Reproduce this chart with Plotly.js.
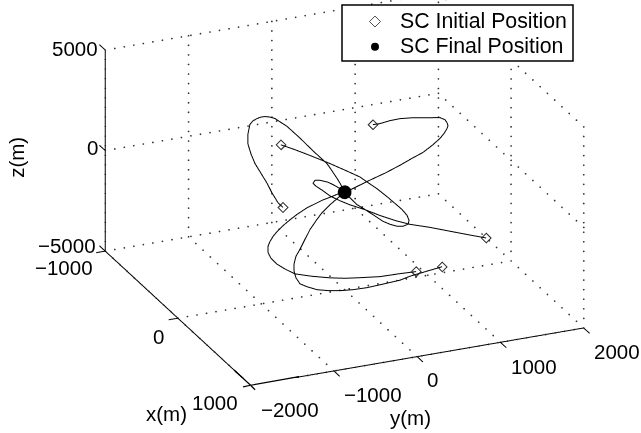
<!DOCTYPE html>
<html><head><meta charset="utf-8">
<script src="https://cdn.plot.ly/plotly-3.0.1.min.js"></script>
<style>html,body{margin:0;padding:0;background:#fff}#c{width:641px;height:433px}</style>
</head><body><div id="c"></div>
<script>
const xTicks=[-1000,0,1000], yTicks=[-2000,-1000,0,1000,2000], zTicks=[-5000,0,5000];
const finalPos=[0,0,-150];
const a1X=[-300,-300,-300,-300,-300,-300,-200,-200,-200,-200,-200,-200,-100,-100,-100,-100,-100,-100,-100,0,0,0,0,0];
const a1Y=[-478,-538,-610,-670,-742,-814,-949,-985,-985,-973,-961,-925,-964,-916,-868,-808,-748,-604,-448,-378,-210,-114,-54,0];
const a1Z=[-1575,-1290,-752,-222,315,853,1761,2275,2763,2998,3233,3379,3855,3895,3887,3820,3705,3215,2522,2165,1414,762,331,-150];
const a2X=[-200,-200,-200,-200,-100,-100,-100,-100,0,0,100,100,100,100,100,100,100,100,0,0,0,0,0];
const a2Y=[-589,-421,-240,-36,93,273,357,477,511,607,604,664,688,676,616,544,460,376,354,246,150,66,0];
const a2Z=[1950,1590,1172,688,536,69,-234,-658,-745,-1154,-1117,-1452,-1713,-1899,-1956,-1906,-1749,-1545,-1563,-1195,-884,-485,-150];
const a3X=[300,300,300,300,200,200,100,100,100,0,0,0,0,0,0,0,0,0,0,0];
const a3Y=[1439,1247,1006,766,613,433,339,159,-21,-54,-174,-270,-342,-378,-354,-294,-198,-126,-66,0];
const a3Z=[-2459,-2179,-1817,-1454,-1528,-1208,-1226,-808,-439,-547,-220,139,384,556,685,643,479,283,95,-150];
const a4X=[-300,-300,-300,-300,-200,-200,-200,-200,-100,-100,-100,-100,-100,-100,0,0,0,0,0,0,0,0,0];
const a4Y=[603,687,808,928,985,1117,1237,1321,1294,1318,1330,1318,1282,1234,1051,943,811,667,486,282,162,66,0];
const a4Z=[1771,1761,1824,1837,2173,2082,1998,1940,2189,2025,1871,1733,1514,1304,1416,1150,948,707,442,194,33,-95,-150];
const a5X=[300,300,300,300,300,300,200,200,200,200,200,200,100,100,100,100,100,100,0,0,0,0,0,0,0];
const a5Y=[598,406,165,-75,-255,-435,-564,-769,-889,-985,-1057,-1093,-1006,-982,-946,-898,-826,-742,-559,-450,-354,-258,-162,-78,0];
const a5Z=[-3533,-3497,-3475,-3357,-3257,-3107,-3271,-3006,-2679,-2368,-2026,-1708,-1803,-1576,-1357,-1147,-904,-670,-832,-614,-486,-358,-277,-190,-150];
const a6X=[400,400,400,400,400,400,400,400,300,300,300,300,300,200,200,200,200,100,100,100,0,0,0,0];
const a6Y=[823,619,439,319,138,-78,-246,-402,-459,-591,-711,-796,-844,-781,-781,-757,-709,-562,-501,-429,-270,-174,-78,0];
const a6Z=[-3118,-3220,-3314,-3426,-3471,-3516,-3497,-3436,-3724,-3585,-3354,-3149,-2823,-2852,-2510,-2137,-1829,-1771,-1325,-936,-983,-659,-385,-150];
const curves=[[a1X,a1Y,a1Z],[a2X,a2Y,a2Z],[a3X,a3Y,a3Z],[a4X,a4Y,a4Z],[a5X,a5Y,a5Z],[a6X,a6Y,a6Z]];
const [xLo,xHi]=[xTicks[0],xTicks[2]], [yLo,yHi]=[yTicks[0],yTicks[4]], [zLo,zHi]=[zTicks[0],zTicks[2]];
const FONT='"Liberation Sans", Arial, Helvetica, sans-serif';
function segs(list){const X=[],Y=[],Z=[];list.forEach(s=>{X.push(s[0],s[3],null);Y.push(s[1],s[4],null);Z.push(s[2],s[5],null);});return {x:X,y:Y,z:Z};}
const gridSegs=[];
yTicks.forEach(y=>{gridSegs.push([xLo,y,zLo,xHi,y,zLo,20]);gridSegs.push([xLo,y,zLo,xLo,y,zHi,21]);});
xTicks.forEach(x=>{gridSegs.push([x,yLo,zLo,x,yHi,zLo,35]);gridSegs.push([x,yHi,zLo,x,yHi,zHi,21]);});
zTicks.forEach(z=>{gridSegs.push([xLo,yLo,z,xLo,yHi,z,35]);gridSegs.push([xLo,yHi,z,xHi,yHi,z,20]);});
const gx=[],gy=[],gz=[];
gridSegs.forEach(s=>{const n=s[6];for(let i=0;i<=n;i++){const t=i/n;gx.push(s[0]+(s[3]-s[0])*t);gy.push(s[1]+(s[4]-s[1])*t);gz.push(s[2]+(s[5]-s[2])*t);}});
const axisSegs=[[xLo,yLo,zLo,xHi,yLo,zLo],[xHi,yLo,zLo,xHi,yHi,zLo],[xLo,yLo,zLo,xLo,yLo,zHi]];
xTicks.forEach(x=>axisSegs.push([x,yLo,zLo,x,yLo-110,zLo]));
yTicks.forEach(y=>axisSegs.push([xHi,y,zLo,xHi+80,y,zLo]));
zTicks.forEach(z=>axisSegs.push([xLo,yLo,z,xLo-80,yLo,z]));
const traces=[
 {type:'scatter3d',mode:'markers',showlegend:false,hoverinfo:'skip',x:gx,y:gy,z:gz,marker:{symbol:'circle',size:1,color:'#333',line:{width:0}}},
 Object.assign({type:'scatter3d',mode:'lines',showlegend:false,hoverinfo:'skip',line:{color:'#000',width:2}},segs(axisSegs))
];
curves.forEach(c=>traces.push({type:'scatter3d',mode:'lines',showlegend:false,x:c[0],y:c[1],z:c[2],line:{color:'#000',width:2}}));
const legendText=s=>'<span style="font-size:21.3px">'+s+'</span>';
traces.push({type:'scatter3d',mode:'markers',name:legendText('SC Initial Position'),
 x:curves.map(c=>c[0][0]).concat([null]),y:curves.map(c=>c[1][0]).concat([null]),z:curves.map(c=>c[2][0]).concat([null]),
 marker:{symbol:'diamond-open',size:[7,7,7,7,7,7,17],color:'#000',line:{color:'#000',width:1}}});
traces.push({type:'scatter3d',mode:'markers',name:legendText('SC Final Position'),x:[finalPos[0]],y:[finalPos[1]],z:[finalPos[2]],marker:{symbol:'circle',size:8,color:'#000'}});
const txt=(text,x,y,z,dx,dy,extra)=>Object.assign({text,x,y,z,showarrow:false,xanchor:'center',yanchor:'middle',xshift:dx,yshift:-dy,font:{family:FONT,size:20.5,color:'#000'}},extra||{});
const lab=v=>String(v).replace('-','\u2212');
const ann=[];
const zOff={'-5000':[-38,-6],'0':[-13,-3],'5000':[-30,-2]};
zTicks.forEach(z=>ann.push(txt(lab(z),xLo,yLo,z,zOff[z][0],zOff[z][1])));
const xOff={'-1000':[-41,16],'0':[-19,18],'1000':[-36,17]};
xTicks.forEach(x=>ann.push(txt(lab(x),x,yLo,zLo,xOff[x][0],xOff[x][1])));
const yOff={'-2000':[39,24],'-1000':[39,24],'0':[15,23],'1000':[34,24],'2000':[33,24]};
yTicks.forEach(y=>ann.push(txt(lab(y),xHi,y,zLo,yOff[y][0],yOff[y][1])));
ann.push(txt('x(m)',0,yLo,zLo,-11,95));
ann.push(txt('y(m)',xHi,0,zLo,-7,61));
ann.push(txt('z(m)',xLo,yLo,0,-89,7,{textangle:-90}));
// The corner of the box nearest the viewer falls outside the WebGL depth range, so it is drawn from that corner's data position.
[[-18,-16.6],[50,-9],[-9,2],[6,6]].forEach(o=>ann.push({x:xHi,y:yLo,z:zLo,text:' ',showarrow:true,arrowhead:0,arrowwidth:1.2,arrowcolor:'#000',standoff:0,startstandoff:0,ax:o[0],ay:o[1],font:{size:1}}));
const noAxis=(range)=>({range,autorange:false,showgrid:false,zeroline:false,showline:false,showticklabels:false,ticks:'',showbackground:false,showspikes:false,title:{text:''}});
const layout={width:641,height:433,margin:{l:0,r:0,t:0,b:0},paper_bgcolor:'#fff',hovermode:false,
 shapes:[{type:'rect',xref:'paper',yref:'paper',x0:342/641,x1:573/641,y0:1-61/433,y1:1-5/433,fillcolor:'#fff',line:{color:'#000',width:1.5},layer:'above'}],
 legend:{x:350/641,xanchor:'left',y:1-4/433,yanchor:'top',bgcolor:'rgba(0,0,0,0)',borderwidth:0,itemwidth:40,font:{family:FONT,size:17,color:'#000'}},
 scene:{domain:{x:[48/641,1],y:[55/433,1]},
  xaxis:noAxis([xLo*1.1,xHi*1.1]),yaxis:noAxis([yLo*1.1,yHi*1.1]),zaxis:noAxis([zLo,zHi]),
  aspectmode:'manual',aspectratio:{x:2.134,y:2.112,z:1.16},
  camera:{projection:{type:'orthographic'},up:{x:0,y:0,z:1},center:{x:0,y:0,z:0},eye:{x:10.1,y:-4.36,z:4.78}},
  annotations:ann}};
Plotly.newPlot('c',traces,layout,{displayModeBar:false});
</script></body></html>
